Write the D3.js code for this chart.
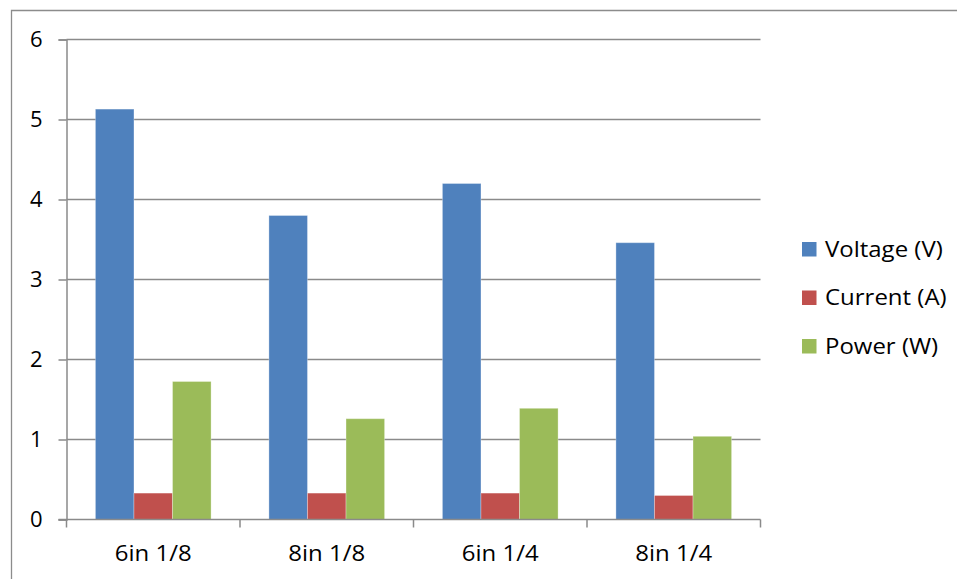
<!DOCTYPE html>
<html>
<head>
<meta charset="utf-8">
<script src="https://cdn.jsdelivr.net/npm/d3@7"></script>
<style>
  html, body { margin: 0; padding: 0; background: #fff; }
  svg { display: block; }
  text { font-family: "Open Sans", Lato, sans-serif; fill: #000; }
</style>
</head>
<body>
<script>
// Sample categories (probe length and wire gauge)
const categories = ["6in 1/8", "8in 1/8", "6in 1/4", "8in 1/4"];
// Measured series
const seriesNames = ["Voltage (V)", "Current (A)", "Power (W)"];
const voltage = [5.13, 3.80, 4.20, 3.46];
const current = [0.33, 0.33, 0.33, 0.30];
const power = [1.725, 1.26, 1.39, 1.04];
const yTicks = [0, 1, 2, 3, 4, 5, 6];
const colors = ["#4F81BD", "#C0504D", "#9BBB59"];

const W = 957, H = 579;
const plot = { left: 66.5, right: 760.5, top: 39.5, bottom: 519.5 };
const FS = 22;        // label font size
const SX = 1.09;      // slight horizontal widening of label glyphs

const svg = d3.select("body").append("svg").attr("width", W).attr("height", H);

// Outer chart frame (top and left edges visible)
svg.append("path")
  .attr("d", `M11.5,${H} V10.5 H${W}`)
  .attr("fill", "none").attr("stroke", "#8c8c8c").attr("stroke-width", 1.3);

const x0 = d3.scaleBand().domain(categories).range([plot.left, plot.right]).paddingInner(0).paddingOuter(0);
const bw = x0.bandwidth();
const x1 = d3.scaleBand().domain(seriesNames).range([0, bw]).paddingInner(0).paddingOuter(0.75);
const y = d3.scaleLinear().domain([0, 6]).range([plot.bottom, plot.top]);

// Horizontal gridlines
svg.append("g").selectAll("line").data(yTicks.filter(d => d > 0)).join("line")
  .attr("x1", plot.left).attr("x2", plot.right)
  .attr("y1", d => y(d)).attr("y2", d => y(d))
  .attr("stroke", "#8a8a8a").attr("stroke-width", 1.5);

// Bars
const table = categories.map((c, i) => ({ cat: c, vals: [voltage[i], current[i], power[i]] }));
const groups = svg.append("g").selectAll("g").data(table).join("g")
  .attr("transform", d => `translate(${x0(d.cat)},0)`);
groups.selectAll("rect").data(d => d.vals.map((v, k) => ({ v, k }))).join("rect")
  .attr("x", d => x1(seriesNames[d.k]))
  .attr("width", x1.bandwidth())
  .attr("y", d => y(d.v))
  .attr("height", d => y(0) - y(d.v))
  .attr("fill", d => colors[d.k])
  .attr("stroke", "rgba(255,255,255,0.3)").attr("stroke-width", 1);

// Y axis
const yAxis = svg.append("g").attr("transform", `translate(${plot.left},0)`)
  .call(d3.axisLeft(y).tickValues(yTicks).tickSize(8).tickPadding(16).tickFormat(d3.format("d")));
yAxis.select(".domain").attr("stroke", "#8a8a8a").attr("stroke-width", 1.5);
yAxis.selectAll(".tick line").attr("stroke", "#8a8a8a").attr("stroke-width", 1.5);
yAxis.selectAll(".tick text").attr("font-size", FS).attr("font-family", "'Open Sans', Lato, sans-serif").attr("fill", "#000");

// X axis with tick marks at category boundaries
const xAxisG = svg.append("g").attr("transform", `translate(0,${plot.bottom})`);
xAxisG.append("line").attr("x1", plot.left - 8).attr("x2", plot.right)
  .attr("stroke", "#8a8a8a").attr("stroke-width", 1.5);
const bounds = categories.map(c => x0(c)).concat([plot.right]);
xAxisG.selectAll(".bt").data(bounds).join("line").attr("class", "bt")
  .attr("x1", d => d).attr("x2", d => d).attr("y1", 0).attr("y2", 8)
  .attr("stroke", "#8a8a8a").attr("stroke-width", 1.5);
xAxisG.selectAll("text").data(categories).join("text")
  .attr("transform", d => `translate(${x0(d) + bw / 2},41) scale(${SX},1)`)
  .attr("text-anchor", "middle").attr("font-size", FS).text(d => d);

// Legend
const legend = svg.append("g").attr("transform", "translate(802,242)");
const items = legend.selectAll("g").data(seriesNames).join("g")
  .attr("transform", (d, i) => `translate(0,${i * 48.5})`);
items.append("rect").attr("x", 0).attr("y", 0).attr("width", 14.5).attr("height", 14.5)
  .attr("fill", (d, i) => colors[i]);
items.append("text").attr("transform", `translate(23,14.8) scale(${SX},1)`)
  .attr("font-size", FS).text(d => d);
</script>
</body>
</html>
